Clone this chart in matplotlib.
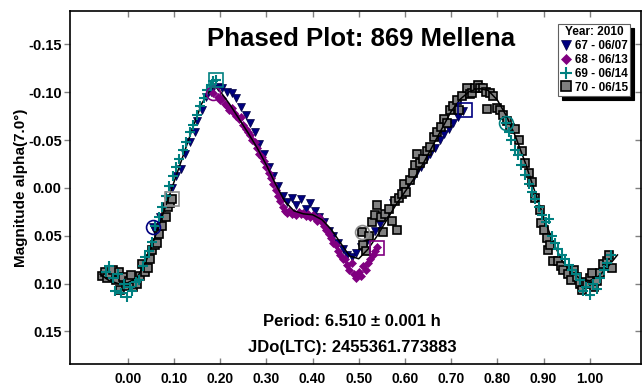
import matplotlib
matplotlib.use("Agg")
import matplotlib.pyplot as plt

plt.rcParams['font.family'] = ['Liberation Sans', 'DejaVu Sans']
plt.rcParams['font.weight'] = 'bold'

# ---------------- data ----------------
title = "Phased Plot: 869 Mellena"
ylabel = "Magnitude alpha(7.0\u00b0)"
period_text = "Period: 6.510 \u00b1 0.001 h"
jd_text = "JDo(LTC): 2455361.773883"
legend_title = "Year: 2010"
xticks = [0.0, 0.1, 0.2, 0.3, 0.4, 0.5, 0.6, 0.7, 0.8, 0.9, 1.0]
xticklabels = ["0.00", "0.10", "0.20", "0.30", "0.40", "0.50", "0.60", "0.70", "0.80", "0.90", "1.00"]
yticks = [-0.15, -0.10, -0.05, 0.0, 0.05, 0.10, 0.15]
yticklabels = ["-0.15", "-0.10", "-0.05", "0.00", "0.05", "0.10", "0.15"]

# Fourier fit curve
fit_phase = [-0.06, -0.04, -0.02, 0.00, 0.02, 0.04, 0.06, 0.08, 0.10, 0.12, 0.14, 0.16, 0.18, 0.19,
             0.20, 0.22, 0.24, 0.26, 0.28, 0.30, 0.32, 0.34, 0.36, 0.38, 0.40, 0.42, 0.44, 0.46,
             0.48, 0.50, 0.52, 0.54, 0.56, 0.58, 0.60, 0.62, 0.64, 0.66, 0.68, 0.70, 0.72, 0.74,
             0.76, 0.78, 0.80, 0.82, 0.84, 0.86, 0.88, 0.90, 0.92, 0.94, 0.96, 0.98, 1.00, 1.02,
             1.04, 1.06]
fit_mag = [0.090, 0.097, 0.100, 0.099, 0.094, 0.076, 0.050, 0.022, -0.006, -0.034, -0.062, -0.088,
           -0.104, -0.106, -0.101, -0.088, -0.073, -0.058, -0.042, -0.024, -0.004, 0.014, 0.024,
           0.027, 0.028, 0.033, 0.043, 0.057, 0.071, 0.074, 0.064, 0.050, 0.034, 0.018, 0.004,
           -0.010, -0.026, -0.044, -0.062, -0.080, -0.093, -0.101, -0.104, -0.102, -0.092, -0.075,
           -0.053, -0.027, 0.002, 0.030, 0.056, 0.076, 0.088, 0.095, 0.097, 0.092, 0.082, 0.070]

# Session 67 - 06/07 (navy triangles)
s67_phase = [0.055, 0.060, 0.070, 0.080, 0.085, 0.095, 0.105, 0.115, 0.125, 0.135, 0.145, 0.150,
             0.160, 0.170, 0.180, 0.195, 0.205, 0.215, 0.225, 0.235, 0.245, 0.255, 0.265, 0.275,
             0.285, 0.295, 0.305, 0.315, 0.325, 0.335, 0.345, 0.355, 0.365, 0.375, 0.385, 0.395,
             0.405, 0.415, 0.425, 0.435, 0.445, 0.455, 0.465, 0.475, 0.485, 0.495, 0.505, 0.515,
             0.525, 0.535, 0.545, 0.555, 0.565, 0.575, 0.585, 0.595, 0.605, 0.615, 0.625, 0.635,
             0.645, 0.655, 0.665, 0.675, 0.685, 0.695, 0.705, 0.715, 0.725]
s67_mag = [0.041, 0.045, 0.030, 0.020, 0.012, 0.000, -0.012, -0.020, -0.035, -0.048, -0.058, -0.070,
           -0.082, -0.095, -0.100, -0.106, -0.104, -0.100, -0.099, -0.094, -0.085, -0.076, -0.068,
           -0.058, -0.046, -0.036, -0.022, -0.012, -0.002, 0.008, 0.015, 0.010, 0.018, 0.012,
           0.022, 0.016, 0.024, 0.030, 0.036, 0.045, 0.050, 0.058, 0.064, 0.070, 0.072, 0.068,
           0.062, 0.058, 0.052, 0.045, 0.038, 0.030, 0.024, 0.016, 0.012, 0.004, -0.002, -0.008,
           -0.016, -0.022, -0.030, -0.036, -0.042, -0.050, -0.056, -0.062, -0.068, -0.074, -0.080]

# Session 68 - 06/13 (purple diamonds)
s68_phase = [0.185, 0.195, 0.200, 0.205, 0.210, 0.215, 0.220, 0.225, 0.230, 0.235, 0.240, 0.245,
             0.250, 0.255, 0.260, 0.265, 0.270, 0.275, 0.280, 0.285, 0.290, 0.295, 0.300, 0.305,
             0.310, 0.315, 0.320, 0.325, 0.330, 0.335, 0.340, 0.345, 0.350, 0.355, 0.360, 0.365,
             0.370, 0.375, 0.380, 0.385, 0.390, 0.395, 0.400, 0.405, 0.410, 0.415, 0.420, 0.425,
             0.430, 0.435, 0.440, 0.445, 0.450, 0.455, 0.460, 0.465, 0.470, 0.475, 0.480, 0.485,
             0.490, 0.495, 0.500, 0.505, 0.510, 0.515, 0.520, 0.525, 0.530, 0.535, 0.540]
s68_mag = [-0.099, -0.095, -0.092, -0.094, -0.088, -0.086, -0.082, -0.084, -0.078, -0.075, -0.072,
           -0.074, -0.066, -0.062, -0.058, -0.055, -0.050, -0.048, -0.042, -0.036, -0.032, -0.028,
           -0.022, -0.016, -0.010, -0.004, 0.002, 0.008, 0.014, 0.020, 0.024, 0.026, 0.024, 0.027,
           0.026, 0.028, 0.025, 0.027, 0.026, 0.029, 0.027, 0.030, 0.028, 0.031, 0.034, 0.030,
           0.036, 0.040, 0.044, 0.048, 0.052, 0.058, 0.060, 0.066, 0.070, 0.074, 0.074, 0.080,
           0.086, 0.078, 0.090, 0.094, 0.088, 0.092, 0.082, 0.086, 0.078, 0.074, 0.070, 0.066, 0.062]

# Session 69 - 06/14 (teal plus)
s69_phase = [0.819, 0.825, 0.830, 0.838, 0.845, 0.852, 0.860, 0.868, 0.875, 0.882, 0.890, 0.897,
             0.905, 0.912, 0.918, 0.925, 0.932, 0.940, 0.947, 0.955, 0.962, 0.970, 0.978, 0.985,
             0.992, 1.000, 1.008, 1.015, 1.022, 1.030, 1.038, 1.045,
             -0.048, -0.040, -0.032, -0.028, -0.022, -0.015, -0.008, -0.002, 0.005, 0.010, 0.018,
             0.025, 0.032, 0.038, 0.045, 0.052, 0.060, 0.068, 0.075, 0.083, 0.090, 0.098, 0.105,
             0.112, 0.120, 0.127, 0.135, 0.142, 0.150, 0.157, 0.165, 0.172, 0.180, 0.185, 0.190]
s69_mag = [-0.068, -0.058, -0.050, -0.040, -0.034, -0.024, -0.014, -0.004, 0.004, 0.012, 0.020,
           0.028, 0.036, 0.032, 0.050, 0.058, 0.064, 0.070, 0.074, 0.080, 0.086, 0.090, 0.096,
           0.108, 0.104, 0.112, 0.100, 0.106, 0.094, 0.086, 0.078, 0.070,
           0.088, 0.082, 0.094, 0.108, 0.090, 0.110, 0.100, 0.114, 0.104, 0.108, 0.098, 0.096,
           0.082, 0.072, 0.066, 0.056, 0.040, 0.030, 0.020, 0.008, -0.002, -0.012, -0.022,
           -0.030, -0.040, -0.048, -0.058, -0.066, -0.076, -0.086, -0.094, -0.102, -0.108,
           -0.112, -0.113]

# Session 70 - 06/15 (grey squares)
s70_phase = [0.507, 0.510, 0.515, 0.522, 0.528, 0.535, 0.540, 0.548, 0.553, 0.557, 0.565, 0.572,
             0.578, 0.583, 0.588, 0.594, 0.597, 0.603, 0.611, 0.618, 0.622, 0.626, 0.633, 0.640,
             0.648, 0.655, 0.662, 0.670, 0.678, 0.684, 0.691, 0.698, 0.705, 0.713, 0.716, 0.724,
             0.734, 0.740, 0.745, 0.752, 0.758, 0.763, 0.770, 0.776, 0.778, 0.784, 0.790, 0.799,
             0.806, 0.813, 0.820, 0.828, 0.839, 0.846, 0.854, 0.860, 0.868, 0.875, 0.882, 0.892,
             0.895, 0.900, 0.907, 0.910, 0.915, 0.921, 0.932, 0.938, 0.943, 0.954, 0.960, 0.965,
             0.972, 0.978, 0.983, 0.989, 0.994, 1.000, 1.005, 1.010, 1.016, 1.022, 1.029, 1.037,
             1.042, 1.048,
             -0.055, -0.050, -0.045, -0.038, -0.031, -0.025, -0.020, -0.016, -0.010, -0.004,
             0.002, 0.006, 0.012, 0.020, 0.026, 0.031, 0.038, 0.044, 0.048, 0.053, 0.058, 0.063,
             0.068, 0.075, 0.082, 0.088, 0.092, 0.096]
s70_mag = [0.046, 0.060, 0.066, 0.050, 0.036, 0.028, 0.018, 0.030, 0.046, 0.027, 0.022, 0.034,
           0.014, 0.044, 0.010, 0.006, -0.004, 0.004, -0.008, -0.016, -0.024, -0.036, -0.026,
           -0.030, -0.039, -0.043, -0.053, -0.058, -0.064, -0.072, -0.068, -0.081, -0.086, -0.092,
           -0.081, -0.096, -0.105, -0.098, -0.099, -0.104, -0.108, -0.104, -0.105, -0.100, -0.083,
           -0.099, -0.096, -0.084, -0.081, -0.076, -0.070, -0.063, -0.062, -0.050, -0.039, -0.026,
           -0.016, -0.006, 0.010, 0.023, 0.037, 0.044, 0.052, 0.065, 0.060, 0.076, 0.076, 0.082,
           0.086, 0.090, 0.096, 0.086, 0.093, 0.100, 0.107, 0.098, 0.100, 0.094, 0.089, 0.104,
           0.097, 0.089, 0.079, 0.076, 0.070, 0.084,
           0.092, 0.088, 0.094, 0.090, 0.086, 0.096, 0.088, 0.107, 0.093, 0.102, 0.097, 0.091,
           0.104, 0.100, 0.092, 0.079, 0.088, 0.084, 0.074, 0.065, 0.060, 0.058, 0.048, 0.040,
           0.030, 0.020, 0.016, 0.011]

# Session start (circle) / end (square) markers
start_phase = [0.055, 0.185, 0.819, 0.507]
start_mag = [0.041, -0.099, -0.068, 0.046]
end_phase = [0.730, 0.540, 0.190, 0.096]
end_mag = [-0.081, 0.063, -0.113, 0.011]

labels = ["67 - 06/07", "68 - 06/13", "69 - 06/14", "70 - 06/15"]
colors = ["#000080", "#800080", "#008080", "#808080"]
ring_colors = ["#000080", "#800080", "#008080", "#909090"]

# ---------------- figure ----------------
fig = plt.figure(figsize=(6.42, 3.86), dpi=100)
ax = fig.add_axes([70/642, 1 - 364/386, 571/642, 353/386])

ax.plot(s67_phase, s67_mag, linestyle='none', marker='v', ms=6, mfc=colors[0], mec='#000040',
        mew=0.5, label=labels[0], zorder=3)
ax.plot(s68_phase, s68_mag, linestyle='none', marker='D', ms=4.5, mfc=colors[1], mec=colors[1],
        mew=0.5, label=labels[1], zorder=3)
ax.plot(s70_phase, s70_mag, linestyle='none', marker='s', ms=6, mfc=colors[3], mec='black',
        mew=1.2, label=labels[3], zorder=4)
ax.plot(s69_phase, s69_mag, linestyle='none', marker='+', ms=7.5, mec=colors[2], mew=1.5,
        label=labels[2], zorder=5)

ax.plot(fit_phase, fit_mag, color='black', lw=1.1, zorder=4.5)

for i in range(4):
    ax.plot(start_phase[i], start_mag[i], linestyle='none', marker='o', ms=10, mfc='none',
            mec=ring_colors[i], mew=1.2, zorder=6)
    ax.plot(end_phase[i], end_mag[i], linestyle='none', marker='s', ms=10, mfc='none',
            mec=ring_colors[i], mew=1.2, zorder=6)

ax.set_xlim(-0.125, 1.111)
ax.set_ylim(0.184, -0.185)

ax.set_xticks(xticks)
ax.set_xticklabels(xticklabels, fontsize=10, fontweight='bold')
ax.set_yticks(yticks)
ax.set_yticklabels(yticklabels, fontsize=10.5, fontweight='bold')
ax.tick_params(axis='x', direction='in', top=True, length=4, width=1, color='#808080', pad=6)
ax.tick_params(axis='y', direction='out', left=True, right=False, length=4, width=1,
               color='#808080', pad=2)
sec = ax.secondary_yaxis('right')
sec.set_yticks(yticks)
sec.tick_params(direction='in', length=4, width=1, color='#808080', labelright=False)
sec.spines['right'].set_visible(False)

for sp in ax.spines.values():
    sp.set_linewidth(1.2)
    sp.set_color('black')

ax.set_ylabel(ylabel, fontsize=11, fontweight='bold', labelpad=0)

ax.text(0.51, 0.922, title, transform=ax.transAxes, ha='center', va='center',
        fontsize=18.5, fontweight='bold')
ax.text(0.494, 0.119, period_text, transform=ax.transAxes, ha='center', va='center',
        fontsize=12, fontweight='bold')
ax.text(0.494, 0.048, jd_text, transform=ax.transAxes, ha='center', va='center',
        fontsize=12, fontweight='bold')

handles, hl = ax.get_legend_handles_labels()
order = [hl.index(l) for l in labels]
leg = ax.legend([handles[i] for i in order], [hl[i] for i in order], title=legend_title,
                loc='upper right', bbox_to_anchor=(0.981, 0.963), fontsize=8.5,
                title_fontproperties={'weight': 'bold', 'size': 8.5},
                frameon=True, fancybox=False, shadow={'color': 'black', 'alpha': 1, 'ox': 3, 'oy': -3},
                borderpad=0.2, labelspacing=0.15, handlelength=0.9, handletextpad=0.3,
                borderaxespad=0, markerscale=1.1)
leg.get_frame().set_edgecolor('#606060')
leg.get_frame().set_linewidth(0.8)
leg.set_zorder(10)

fig.savefig("out.png", dpi=100)
